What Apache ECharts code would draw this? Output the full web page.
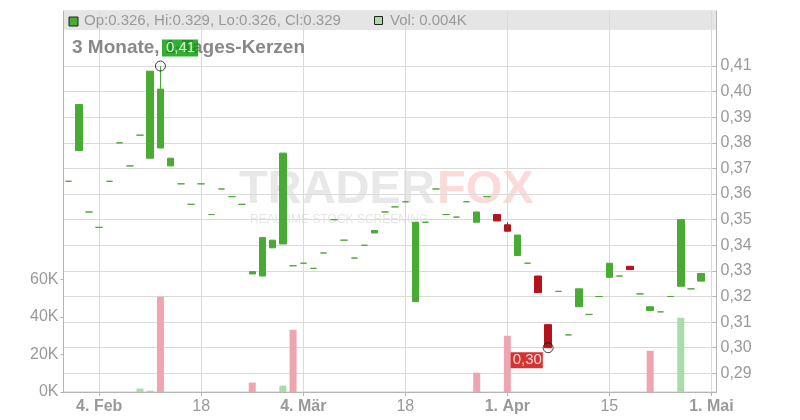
<!DOCTYPE html>
<html><head><meta charset="utf-8">
<script src="https://cdn.jsdelivr.net/npm/echarts@6/dist/echarts.min.js"></script>
<style>html,body{margin:0;padding:0;background:#fff}#c{width:800px;height:420px}</style>
</head><body><div id="c"></div>
<script>
const dates = [
 "2025-01-30","2025-01-31","2025-02-03","2025-02-04","2025-02-05","2025-02-06","2025-02-07",
 "2025-02-10","2025-02-11","2025-02-12","2025-02-13","2025-02-14","2025-02-17","2025-02-18",
 "2025-02-19","2025-02-20","2025-02-21","2025-02-24","2025-02-25","2025-02-26","2025-02-27",
 "2025-02-28","2025-03-03","2025-03-04","2025-03-05","2025-03-06","2025-03-07","2025-03-10",
 "2025-03-11","2025-03-12","2025-03-13","2025-03-14","2025-03-17","2025-03-18","2025-03-19",
 "2025-03-20","2025-03-21","2025-03-24","2025-03-25","2025-03-26","2025-03-27","2025-03-28",
 "2025-03-31","2025-04-01","2025-04-02","2025-04-03","2025-04-04","2025-04-07","2025-04-08",
 "2025-04-09","2025-04-10","2025-04-11","2025-04-14","2025-04-15","2025-04-16","2025-04-17",
 "2025-04-22","2025-04-23","2025-04-24","2025-04-25","2025-04-28","2025-04-29","2025-04-30",
 "2025-05-01"];
const openP = [
 0.365,0.377,0.353,0.347,0.365,0.380,0.371,0.383,0.374,0.378,0.371,0.364,0.356,0.364,
 0.352,0.362,0.359,0.356,0.3288,0.328,0.339,0.3405,0.332,0.333,0.331,0.337,0.350,0.342,
 0.335,0.340,0.3448,0.353,0.355,0.357,0.318,0.349,0.362,0.352,0.351,0.357,0.349,0.359,
 0.352,0.348,0.336,0.333,0.328,0.309,0.322,0.305,0.316,0.313,0.320,0.3275,0.328,0.3318,
 0.321,0.3145,0.314,0.320,0.324,0.323,0.326,null];
const closeP = [
 0.365,0.395,0.353,0.347,0.365,0.380,0.371,0.383,0.408,0.401,0.374,0.364,0.356,0.364,
 0.352,0.362,0.359,0.356,0.3297,0.343,0.342,0.376,0.332,0.333,0.331,0.337,0.350,0.342,
 0.335,0.340,0.3458,0.353,0.355,0.357,0.349,0.349,0.362,0.352,0.351,0.357,0.353,0.359,
 0.3495,0.3455,0.344,0.333,0.3215,0.300,0.322,0.305,0.323,0.313,0.320,0.333,0.328,0.3305,
 0.321,0.316,0.314,0.320,0.350,0.323,0.329,null];
const highP = [
 0.365,0.395,0.353,0.347,0.365,0.380,0.371,0.383,0.408,0.410,0.374,0.364,0.356,0.364,
 0.352,0.362,0.359,0.356,0.3297,0.343,0.342,0.376,0.332,0.333,0.331,0.337,0.350,0.342,
 0.335,0.340,0.3458,0.353,0.355,0.357,0.349,0.349,0.362,0.352,0.351,0.357,0.353,0.359,
 0.352,0.349,0.344,0.333,0.328,0.309,0.322,0.305,0.323,0.313,0.320,0.333,0.328,0.3318,
 0.321,0.316,0.314,0.320,0.350,0.323,0.329,null];
const lowP = [
 0.365,0.377,0.353,0.347,0.365,0.380,0.371,0.383,0.374,0.378,0.371,0.364,0.356,0.364,
 0.352,0.362,0.359,0.356,0.3288,0.328,0.339,0.3405,0.332,0.333,0.331,0.337,0.350,0.342,
 0.335,0.340,0.3448,0.353,0.355,0.357,0.318,0.349,0.362,0.352,0.351,0.357,0.349,0.359,
 0.3495,0.3455,0.336,0.333,0.3215,0.300,0.322,0.305,0.316,0.313,0.320,0.3275,0.328,0.3305,
 0.321,0.3145,0.314,0.320,0.324,0.323,0.326,null];
const volume = [
 0,0,0,0,0,0,0,1800,700,50800,0,0,0,0,
 0,0,0,0,5000,0,0,3400,33200,0,0,0,0,0,
 0,0,0,0,0,0,0,0,0,0,0,0,10300,0,
 0,30000,0,0,0,0,0,0,0,0,0,0,0,0,
 0,22000,0,0,39600,0,4,null];
const tickDates = ["2025-02-04","2025-02-18","2025-03-04","2025-03-18","2025-04-01","2025-04-15","2025-05-01"];
const tickLabels = ["4. Feb","18","4. Mär","18","1. Apr","15","1. Mai"];
const priceTicks = [0.29,0.30,0.31,0.32,0.33,0.34,0.35,0.36,0.37,0.38,0.39,0.40,0.41];
const volumeTicks = [0,20000,40000,60000];
const titleText = "3 Monate, 1-Tages-Kerzen";

const UP = '#4aab34', DOWN = '#b3141b', VUP = '#a9dca7', VDOWN = '#eea5b0';
const GRID = '#dadada', AXIS = '#b5b5b5', TXT = '#999';
const FF = '"Liberation Sans", Arial, sans-serif';

const candleData = dates.map((d, i) => {
  if (openP[i] == null) return '-';
  const item = { value: [openP[i], closeP[i], lowP[i], highP[i]] };
  if (openP[i] === closeP[i]) item.itemStyle = { color: UP, color0: UP, borderColor: UP, borderColor0: UP };
  return item;
});
const volData = dates.map((d, i) => {
  if (volume[i] == null) return '-';
  const prev = i > 0 ? closeP[i - 1] : closeP[i];
  return { value: volume[i], itemStyle: { color: closeP[i] >= prev ? VUP : VDOWN } };
});
let hiIdx = 0, loIdx = 0;
highP.forEach((v, i) => { if (v != null && v > highP[hiIdx]) hiIdx = i; });
lowP.forEach((v, i) => { if (v != null && v < lowP[loIdx]) loIdx = i; });
const fmtPrice = v => v.toFixed(2).replace('.', ',');
let last = openP.length - 1; while (openP[last] == null) last--;
const legendText = 'Op:' + openP[last].toFixed(3) + ', Hi:' + highP[last].toFixed(3) +
  ', Lo:' + lowP[last].toFixed(3) + ', Cl:' + closeP[last].toFixed(3);
const volText = 'Vol: ' + (volume[last] / 1000).toFixed(3) + 'K';
const isTick = (idx, val) => tickDates.indexOf(val) >= 0;

const chart = echarts.init(document.getElementById('c'), null, { renderer: 'canvas' });
chart.setOption({
  animation: false,
  backgroundColor: '#fff',
  title: { text: titleText, left: 72, top: 37, padding: 0, z: 0, zlevel: 0,
    textStyle: { fontSize: 19, fontWeight: 'bold', color: '#888', lineHeight: 21, fontFamily: FF } },
  grid: { left: 63.5, right: 83.5, top: 11, bottom: 28, show: true, borderColor: '#cfcfcf', borderWidth: 1, backgroundColor: 'transparent' },
  xAxis: {
    type: 'category', data: dates, boundaryGap: true,
    axisLine: { lineStyle: { color: AXIS, width: 1 } },
    axisTick: { show: true, alignWithLabel: true, interval: isTick, length: 4, lineStyle: { color: AXIS } },
    splitLine: { show: true, alignWithLabel: true, interval: isTick, lineStyle: { color: GRID, width: 1 } },
    axisLabel: {
      interval: isTick, margin: 7, hideOverlap: false,
      formatter: (val) => { const k = tickDates.indexOf(val); if (k < 0) return ''; const t = tickLabels[k];
        return t.indexOf('.') >= 0 ? '{b|' + t + '}' : '{n|' + t + '}'; },
      rich: { b: { fontSize: 16, fontWeight: 'bold', color: TXT, fontFamily: FF },
              n: { fontSize: 16, color: TXT, fontFamily: FF } }
    }
  },
  yAxis: [
    { type: 'value', position: 'left', min: 0, max: 203200,
      axisLine: { show: true, lineStyle: { color: AXIS } },
      axisTick: { show: true, length: 3, customValues: volumeTicks, lineStyle: { color: AXIS } },
      splitLine: { show: false },
      axisLabel: { customValues: volumeTicks, margin: 5, fontSize: 16, color: TXT, fontFamily: FF,
        formatter: v => Math.round(v / 1000) + 'K' } },
    { type: 'value', position: 'right', min: 0.2827, max: 0.4315,
      axisLine: { show: true, lineStyle: { color: AXIS } },
      axisTick: { show: true, inside: true, length: 4, customValues: priceTicks, lineStyle: { color: AXIS } },
      splitLine: { show: true, lineStyle: { color: GRID, width: 1 } },
      axisLabel: { customValues: priceTicks, margin: 4, fontSize: 16, color: TXT, fontFamily: FF,
        formatter: v => fmtPrice(v) } }
  ],
  graphic: [
    { type: 'rect', z: -10, silent: true, shape: { x: 64, y: 12, width: 652, height: 18 }, style: { fill: '#e5e5e5' } },
    { type: 'text', z: -9, silent: true, left: 239, top: 167, style: { text: 'TRADER', font: 'bold 47px ' + FF, fill: '#e8e8e8' } },
    { type: 'text', z: -9, silent: true, left: 437, top: 167, style: { text: 'FOX', font: 'bold 47px ' + FF, fill: '#fddada' } },
    { type: 'text', z: -9, silent: true, left: 250, top: 214, style: { text: 'REALTIME STOCK SCREENING', font: '12px ' + FF, fill: '#e6e6e6' } },
    { type: 'rect', z: 10, silent: true, shape: { x: 69, y: 17, width: 9, height: 9 }, style: { fill: UP, stroke: '#222', lineWidth: 1 } },
    { type: 'text', z: 10, silent: true, left: 84, top: 13, style: { text: legendText, font: '15px ' + FF, fill: TXT } },
    { type: 'rect', z: 10, silent: true, shape: { x: 374.5, y: 16.5, width: 8, height: 8 }, style: { fill: VUP, stroke: '#222', lineWidth: 1 } },
    { type: 'text', z: 10, silent: true, left: 390, top: 13, style: { text: volText, font: '15px ' + FF, fill: TXT } }
  ],
  series: [
    { type: 'bar', yAxisIndex: 0, data: volData, barWidth: 7, silent: true, z: 1 },
    { type: 'candlestick', yAxisIndex: 1, data: candleData, barWidth: 7, silent: true, z: 3,
      itemStyle: { color: UP, color0: DOWN, borderColor: UP, borderColor0: DOWN, borderWidth: 1 } },
    { type: 'scatter', yAxisIndex: 1, silent: true, z: 20, symbol: 'circle', symbolSize: 10,
      itemStyle: { color: 'rgba(0,0,0,0)', borderColor: '#111', borderWidth: 1 },
      data: [
        { value: [dates[hiIdx], highP[hiIdx]],
          label: { show: true, formatter: fmtPrice(highP[hiIdx]), position: [7, -21], align: 'left', verticalAlign: 'top',
            backgroundColor: '#009900', color: '#fff', fontSize: 15, lineHeight: 15, padding: [1, 3, 1, 4], fontFamily: FF } },
        { value: [dates[loIdx], lowP[loIdx]],
          label: { show: true, formatter: fmtPrice(lowP[loIdx]), position: [-32, 10], align: 'left', verticalAlign: 'top',
            backgroundColor: '#cc0000', color: '#fff', fontSize: 15, lineHeight: 14, padding: [1, 1, 1, 2], fontFamily: FF } }
      ] }
  ]
});
</script></body></html>
